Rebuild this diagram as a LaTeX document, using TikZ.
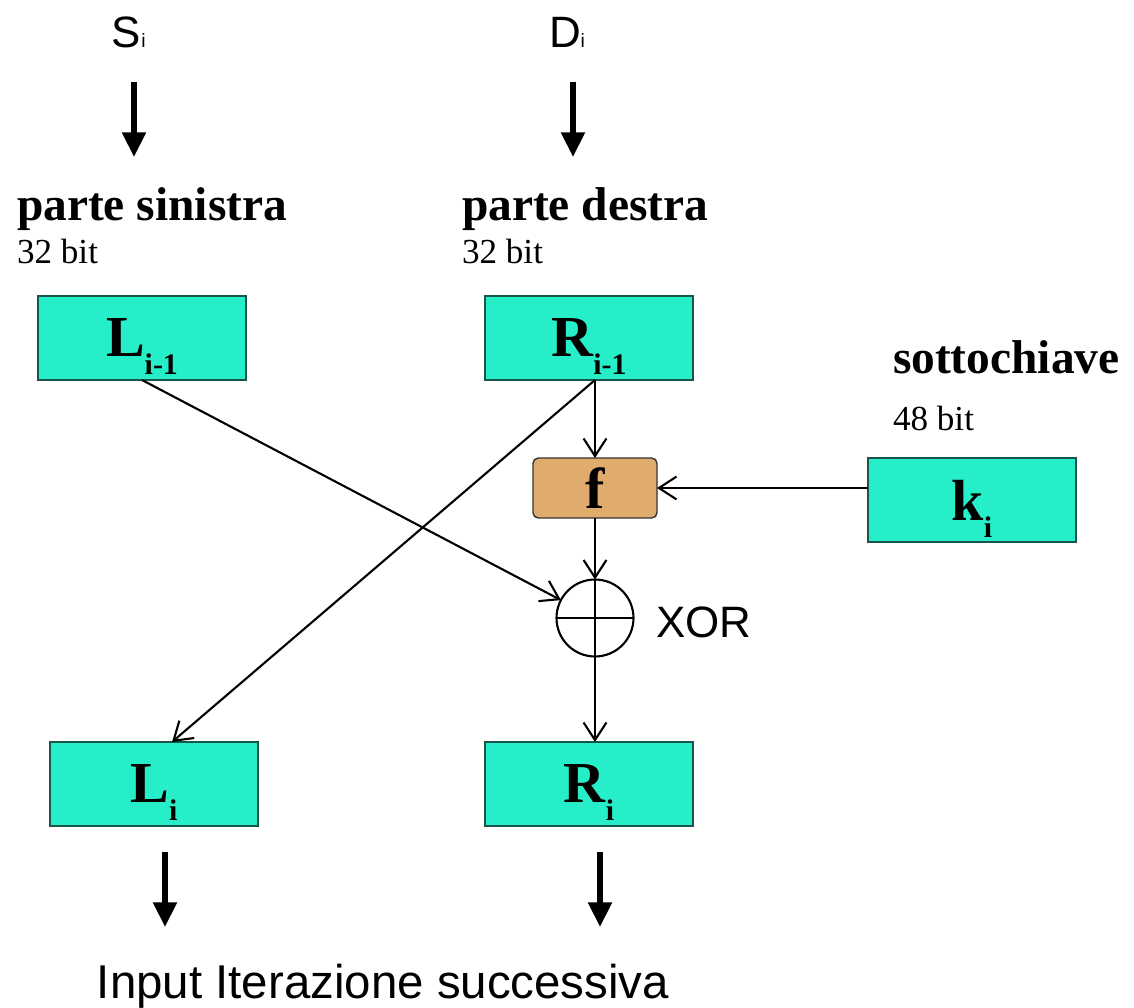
\documentclass[tikz,border=0pt]{standalone}
\usepackage{fontspec}
\setmainfont{Liberation Serif}
\setsansfont{Liberation Sans}
\usetikzlibrary{arrows.meta,positioning}
\definecolor{turq}{RGB}{38,238,200}
\definecolor{turqline}{RGB}{25,85,75}
\definecolor{tanbox}{RGB}{224,172,110}
\newcommand{\lowsub}[1]{\raisebox{-10pt}[0pt][0pt]{\fontsize{17}{17}\selectfont #1}}

\begin{document}
\begin{tikzpicture}[x=0.02cm,y=-0.02cm,every node/.style={inner sep=0pt,outer sep=0pt},
  cyanbox/.style={draw=turqline,line width=.6pt,fill=turq,minimum width=4.16cm,minimum height=1.68cm,font=\bfseries\fontsize{33}{36}\selectfont},
  fnode/.style={draw=black!80,line width=.8pt,fill=tanbox,rounded corners=3pt,minimum width=2.48cm,minimum height=1.2cm,font=\bfseries\fontsize{33}{36}\selectfont},
  xorcirc/.style={circle,draw,line width=1.2pt,minimum size=1.54cm},
  thinarr/.style={line width=1.2pt,-{Straight Barb[length=10pt,width=13pt]}},
  thickarr/.style={line width=3.2pt,-{Triangle[length=14pt,width=13pt]}},
  title/.style={anchor=base west,font=\bfseries\fontsize{27}{30}\selectfont},
  bits/.style={anchor=base west,font=\fontsize{20}{22}\selectfont},
  sans/.style={anchor=base west,font=\sffamily\fontsize{25}{28}\selectfont}]
\useasboundingbox (0,0) rectangle (1134,1008);
% inputs
\node[sans] (Si) at (112,47) {S{\fontsize{11}{11}\selectfont i}};
\node[sans] (Di) at (549,47) {D{\fontsize{11}{11}\selectfont i}};
\coordinate (sIn) at (134,82);
\coordinate (sOut) at (134,157);
\coordinate (dIn) at (573,82);
\coordinate (dOut) at (573,157);
\draw[thickarr] (sIn) -- (sOut);
\draw[thickarr] (dIn) -- (dOut);
\node[title] (sxname) at (17,220) {parte sinistra};
\node[bits] (sxbit) at (17,263) {32 bit};
\node[title] (dxname) at (462,220) {parte destra};
\node[bits] (dxbit) at (462,263) {32 bit};
\node[title] (kname) at (893,373) {sottochiave};
\node[bits] (kbit) at (893,430) {48 bit};
% blocks
\node[cyanbox] (Lp) at (142,338) {L\lowsub{i-1}};
\node[cyanbox] (Rp) at (589,338) {R\lowsub{i-1}};
\node[fnode] (f) at (595,488) {f};
\node[cyanbox] (k) at (972,500) {k\lowsub{i}};
\node[xorcirc] (xor) at (595,618) {};
\node[sans] (xorlbl) at (656,637) {XOR};
\node[cyanbox] (Li) at (154,784) {L\lowsub{i}};
\node[cyanbox] (Ri) at (589,784) {R\lowsub{i}};
% connections
\draw[line width=1.2pt] (xor.north) -- (xor.south) (xor.west) -- (xor.east);
\draw[thinarr] (Lp.south) -- (xor);
\draw[thinarr] (Rp.south -| f.north) -- ([xshift=0.36cm]Li.north);
\draw[thinarr] (Rp.south -| f.north) -- (f.north);
\draw[thinarr] (k.west |- f.east) -- (f.east);
\draw[thinarr] (f.south) -- (xor.north);
\draw[thinarr] (xor.south) -- (Ri.north -| xor.south);
% outputs
\coordinate (lOut) at (165,852);
\coordinate (lEnd) at (165,927);
\coordinate (rOut) at (600,852);
\coordinate (rEnd) at (600,927);
\draw[thickarr] (lOut) -- (lEnd);
\draw[thickarr] (rOut) -- (rEnd);
\node[anchor=base,font=\sffamily\fontsize{27}{30}\selectfont] (next) at (383,998) {Input Iterazione successiva};
\end{tikzpicture}
\end{document}
